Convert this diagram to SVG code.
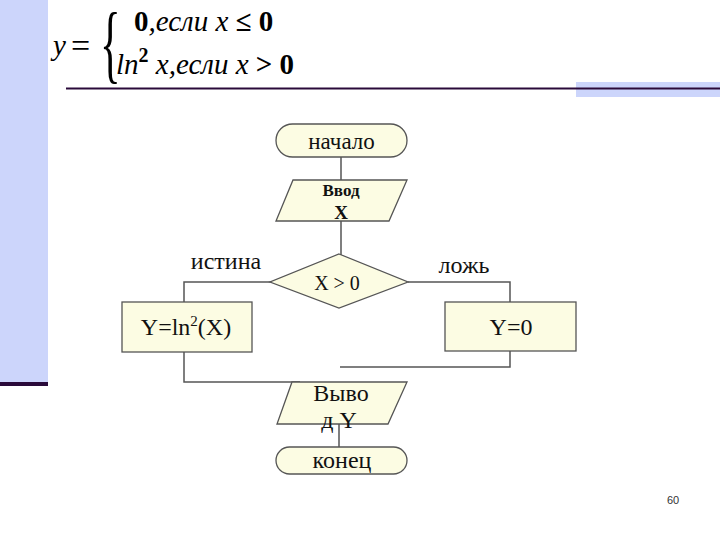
<svg xmlns="http://www.w3.org/2000/svg" width="720" height="540" viewBox="0 0 720 540">
<style>
.n{fill:#fcfce3;stroke:#555;stroke-width:1.3}
.c{fill:none;stroke:#555;stroke-width:1.5}
.t{font-family:"Liberation Serif","Times New Roman","DejaVu Serif",serif;font-size:24px;fill:#111;text-anchor:middle}
.f{font-family:"Liberation Serif","Times New Roman","DejaVu Serif",serif;font-size:29px;fill:#000}
</style>
<rect x="0" y="0" width="720" height="540" fill="#fff"/>
<rect x="0" y="0" width="48" height="383" fill="#ccd5fb"/>
<rect x="0" y="382" width="48" height="4" fill="#2a0a3a"/>
<rect x="576" y="82" width="144" height="15" fill="#ccd5fb"/>
<line x1="66" y1="88.5" x2="720" y2="88.5" stroke="#2a0a3a" stroke-width="2"/>
<g id="formula">
<text class="f" x="53" y="55" font-style="italic">y</text>
<text class="f" x="71" y="57" style="font-size:34px">=</text>
<text class="f" x="200" y="72" style="font-size:86px" transform="scale(0.5 1)">{</text>
<text class="f" x="134" y="31"><tspan font-weight="bold">0</tspan><tspan font-style="italic">,если x </tspan><tspan font-weight="bold">≤ 0</tspan></text>
<text class="f" x="116" y="74"><tspan font-style="italic">ln</tspan><tspan font-weight="bold" style="font-size:20px" dy="-12">2</tspan><tspan font-style="italic" dy="12"> x,если x </tspan><tspan font-weight="bold">&gt; 0</tspan></text>
</g>
<g id="connectors">
<path class="c" d="M341 157V180M341 220V255M271 282H184V302M408 282H510V302M510 351V367H340M184 352V382H300M339 424V447"/>
</g>
<g id="start">
<rect class="n" x="276" y="124" width="131" height="33" rx="16.5"/>
<text class="t" x="341.5" y="149" style="font-size:23px">начало</text>
</g>
<g id="input">
<polygon class="n" points="293,180 407,180 389,221 276,221"/>
<text class="t" x="341" y="196" style="font-size:17px" font-weight="bold">Ввод</text>
<text class="t" x="341" y="219" style="font-size:19px" font-weight="bold">X</text>
</g>
<g id="cond">
<polygon class="n" points="339,254 408,282 339,308 270,282"/>
<text class="t" x="337" y="290" style="font-size:20px">X &gt; 0</text>
</g>
<text class="t" x="226" y="269">истина</text>
<text class="t" x="464" y="273">ложь</text>
<g id="yln">
<rect class="n" x="122" y="302" width="130" height="50"/>
<text class="t" x="186" y="335">Y=ln<tspan style="font-size:15px" dy="-9">2</tspan><tspan dy="9">(X)</tspan></text>
</g>
<g id="y0">
<rect class="n" x="445" y="302" width="131" height="49"/>
<text class="t" x="511" y="335">Y=0</text>
</g>
<g id="output">
<polygon class="n" points="292,382 407,382 388,424 277,424"/>
<text class="t" x="341" y="401">Выво</text>
<text class="t" x="339" y="428">д Y</text>
</g>
<g id="end">
<rect class="n" x="276" y="447" width="131" height="27" rx="13.5"/>
<text class="t" x="342" y="468">конец</text>
</g>
<text x="667" y="504" font-family="Liberation Sans,sans-serif" font-size="11" fill="#333">60</text>
</svg>
